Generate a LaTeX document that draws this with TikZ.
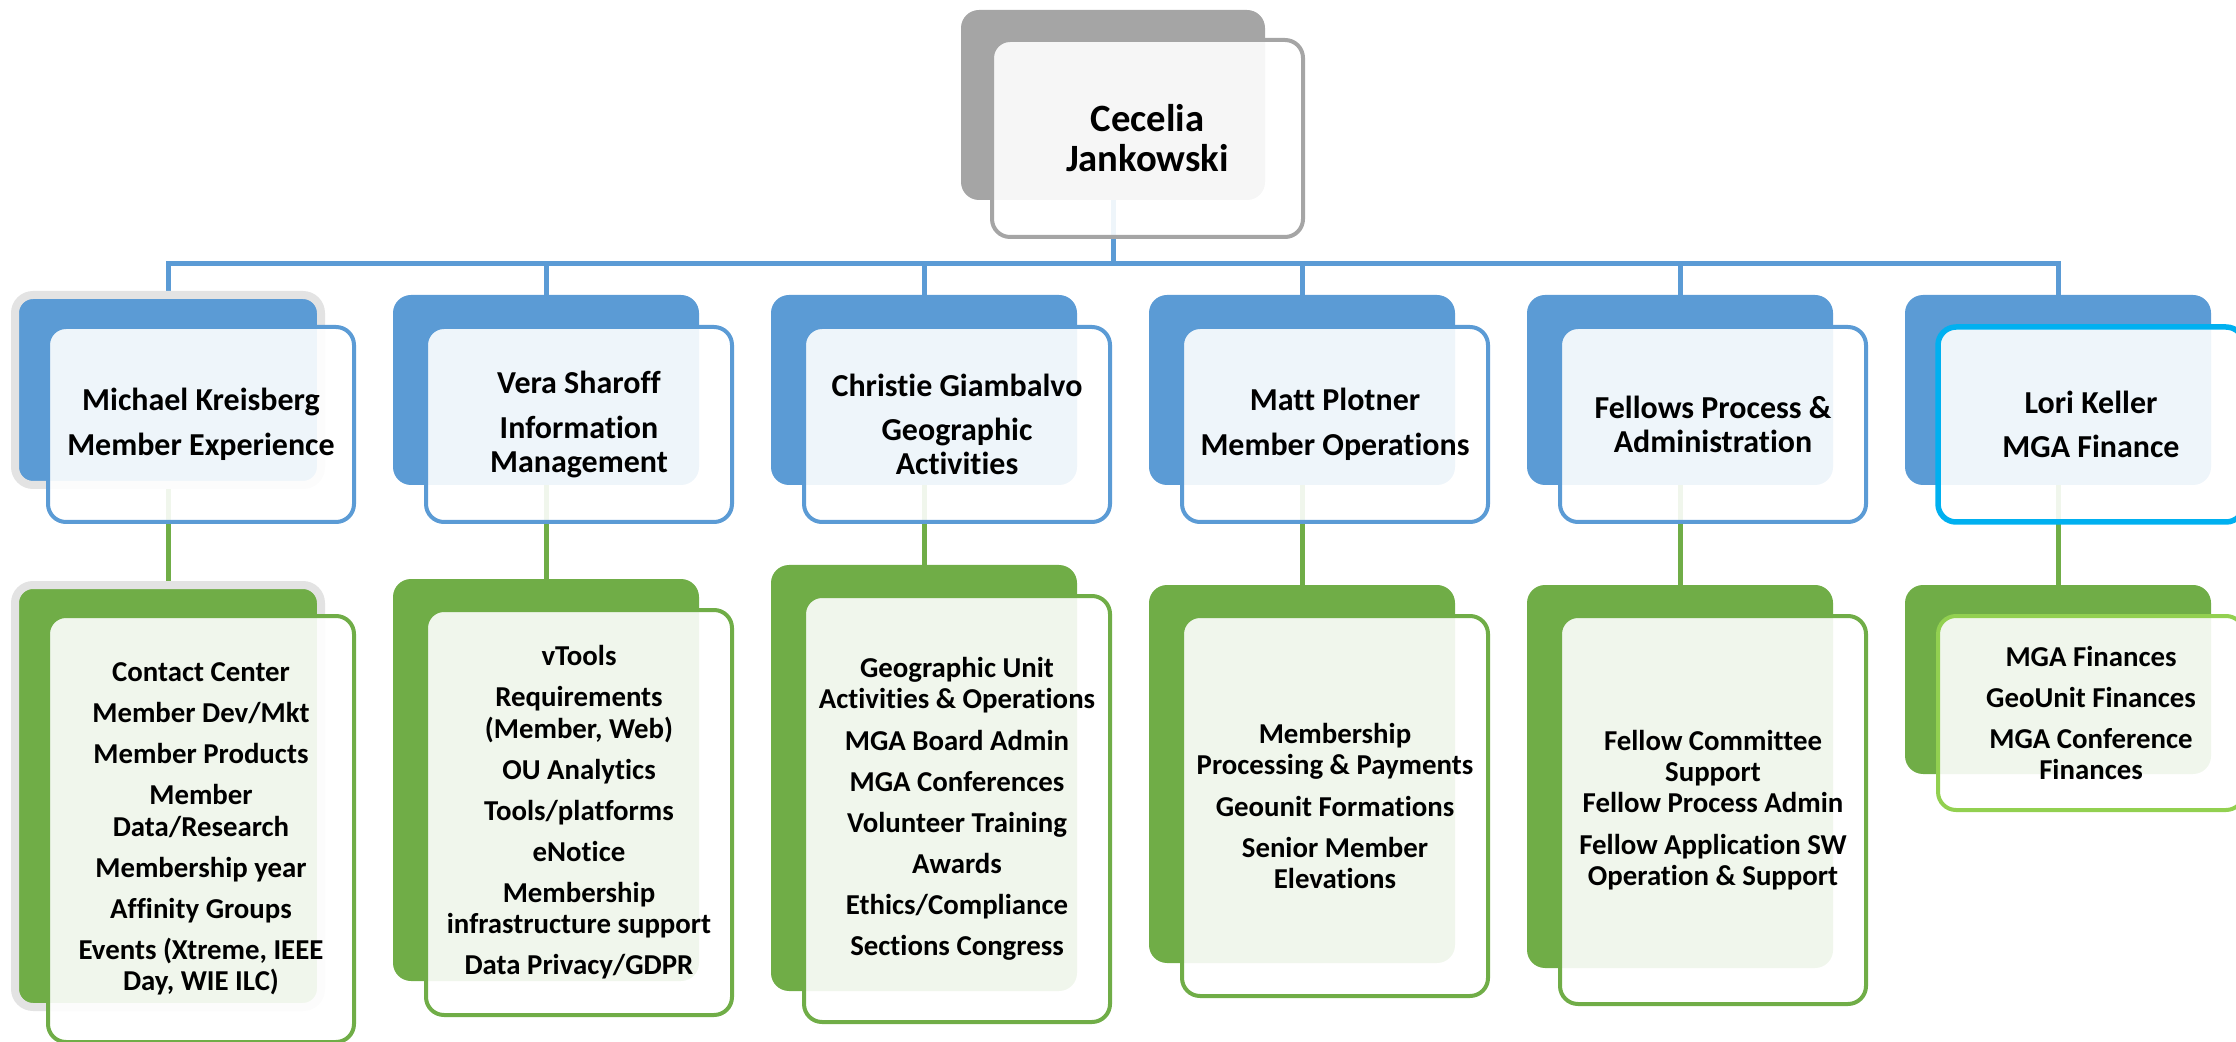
\documentclass[tikz,border=0pt]{standalone}
\usepackage{fontspec}
\setmainfont{Carlito}[Ligatures=NoCommon]

\definecolor{accentblue}{HTML}{5B9BD5}
\definecolor{accentgreen}{HTML}{70AD47}
\definecolor{accentgray}{HTML}{A5A5A5}
\definecolor{brightcyan}{HTML}{00B0F0}
\definecolor{lightgreen}{HTML}{92D050}
\definecolor{haze}{HTML}{E3E3E3}

\pgfdeclarelayer{links}
\pgfsetlayers{links,main}

\tikzset{
    backbox/.style={rounded corners=1.8mm, inner sep=0pt, outer sep=0pt, anchor=north west},
    frontbox/.style={rounded corners=1.8mm, inner sep=0pt, outer sep=0pt, anchor=north west,
        fill=white, fill opacity=0.9, text opacity=1, line width=0.4mm, align=center},
    headtext/.style={font=\fontsize{11pt}{11.4pt}\selectfont\bfseries},
    leadtext/.style={font=\fontsize{9.1pt}{9.7pt}\selectfont\bfseries},
    dutytext/.style={font=\fontsize{8.2pt}{8.9pt}\selectfont\bfseries},
    bluelink/.style={draw=accentblue, line width=0.5mm},
    greenlink/.style={draw=accentgreen, line width=0.5mm},
}

\begin{document}
\begin{tikzpicture}[x=0.1mm, y=-0.1mm]

    % Fix the page to the size of the reference
    \useasboundingbox (0,0) rectangle (2236,1042);

    % Head of the chart
    \node[backbox, fill=accentgray, minimum width=30.4mm, minimum height=19mm] (ceceliaback) at (961,10) {};
    \node[frontbox, draw=accentgray, headtext, minimum width=31.1mm, minimum height=19.7mm] (cecelia) at (992,40) {Cecelia\\Jankowski};

    % Second row: the leads (blue)
    \node[backbox, fill=accentblue, draw=haze, line width=0.8mm, minimum width=30.6mm, minimum height=19mm] (kreisbergback) at (15,295) {};
    \node[frontbox, draw=accentblue, leadtext, minimum width=30.6mm, minimum height=19.5mm] (kreisberg) at (48,327) {Michael Kreisberg\\[3pt]Member Experience};

    \node[backbox, fill=accentblue, minimum width=30.6mm, minimum height=19mm] (sharoffback) at (393,295) {};
    \node[frontbox, draw=accentblue, leadtext, minimum width=30.6mm, minimum height=19.5mm] (sharoff) at (426,327) {Vera Sharoff\\[3pt]Information\\Management};

    \node[backbox, fill=accentblue, minimum width=30.6mm, minimum height=19mm] (giambalvoback) at (771,295) {};
    \node[frontbox, draw=accentblue, leadtext, minimum width=30.6mm, minimum height=19.5mm] (giambalvo) at (804,327) {Christie Giambalvo\\[3pt]Geographic\\Activities};

    \node[backbox, fill=accentblue, minimum width=30.6mm, minimum height=19mm] (plotnerback) at (1149,295) {};
    \node[frontbox, draw=accentblue, leadtext, minimum width=30.6mm, minimum height=19.5mm] (plotner) at (1182,327) {Matt Plotner\\[3pt]Member Operations};

    \node[backbox, fill=accentblue, minimum width=30.6mm, minimum height=19mm] (fellowsback) at (1527,295) {};
    \node[frontbox, draw=accentblue, leadtext, minimum width=30.6mm, minimum height=19.5mm] (fellows) at (1560,327) {Fellows Process \&\\Administration};

    \node[backbox, fill=accentblue, minimum width=30.6mm, minimum height=19mm] (kellerback) at (1905,295) {};
    \node[frontbox, draw=brightcyan, line width=0.55mm, leadtext, minimum width=30.6mm, minimum height=19.5mm] (keller) at (1938,327) {Lori Keller\\[3pt]MGA Finance};

    % Third row: the duties (green)
    \node[backbox, fill=accentgreen, draw=haze, line width=0.8mm, minimum width=30.6mm, minimum height=42.2mm] (experienceback) at (15,585) {};
    \node[frontbox, draw=accentgreen, dutytext, minimum width=30.6mm, minimum height=42.6mm] (experience) at (48,616) {Contact Center\\[2.8pt]Member Dev/Mkt\\[2.8pt]Member Products\\[2.8pt]Member\\Data/Research\\[2.8pt]Membership year\\[2.8pt]Affinity Groups\\[2.8pt]Events (Xtreme, IEEE\\Day, WIE ILC)};

    \node[backbox, fill=accentgreen, minimum width=30.6mm, minimum height=40.2mm] (informationback) at (393,579) {};
    \node[frontbox, draw=accentgreen, dutytext, minimum width=30.6mm, minimum height=40.5mm] (information) at (426,610) {vTools\\[2.8pt]Requirements\\(Member, Web)\\[2.8pt]OU Analytics\\[2.8pt]Tools/platforms\\[2.8pt]eNotice\\[2.8pt]Membership\\infrastructure support\\[2.8pt]Data Privacy/GDPR};

    \node[backbox, fill=accentgreen, minimum width=30.6mm, minimum height=42.6mm] (geographicback) at (771,565) {};
    \node[frontbox, draw=accentgreen, dutytext, minimum width=30.6mm, minimum height=42.6mm] (geographic) at (804,596) {Geographic Unit\\Activities \& Operations\\[2.8pt]MGA Board Admin\\[2.8pt]MGA Conferences\\[2.8pt]Volunteer Training\\[2.8pt]Awards\\[2.8pt]Ethics/Compliance\\[2.8pt]Sections Congress};

    \node[backbox, fill=accentgreen, minimum width=30.6mm, minimum height=37.8mm] (operationsback) at (1149,585) {};
    \node[frontbox, draw=accentgreen, dutytext, minimum width=30.6mm, minimum height=38mm] (operations) at (1182,616) {Membership\\Processing \& Payments\\[2.8pt]Geounit Formations\\[2.8pt]Senior Member\\Elevations};

    \node[backbox, fill=accentgreen, minimum width=30.6mm, minimum height=38.3mm] (processback) at (1527,585) {};
    \node[frontbox, draw=accentgreen, dutytext, minimum width=30.6mm, minimum height=38.8mm] (process) at (1560,616) {Fellow Committee\\Support\\Fellow Process Admin\\[2.8pt]Fellow Application SW\\Operation \& Support};

    \node[backbox, fill=accentgreen, minimum width=30.6mm, minimum height=18.9mm] (financeback) at (1905,585) {};
    \node[frontbox, draw=lightgreen, dutytext, minimum width=30.6mm, minimum height=19.4mm] (finance) at (1938,616) {MGA Finances\\[2.8pt]GeoUnit Finances\\[2.8pt]MGA Conference\\Finances};

    % Connectors, kept behind the boxes
    \begin{pgfonlayer}{links}
    \coordinate (bar) at (0,264);
    \draw[bluelink] (ceceliaback.south) -- (ceceliaback.south |- bar) -| (kreisbergback.north);
    \draw[bluelink] (ceceliaback.south |- bar) -| (sharoffback.north);
    \draw[bluelink] (ceceliaback.south |- bar) -| (giambalvoback.north);
    \draw[bluelink] (ceceliaback.south |- bar) -| (plotnerback.north);
    \draw[bluelink] (ceceliaback.south |- bar) -| (fellowsback.north);
    \draw[bluelink] (ceceliaback.south |- bar) -| (kellerback.north);

    \draw[greenlink] (kreisbergback.south) -- (experienceback.north);
    \draw[greenlink] (sharoffback.south) -- (informationback.north);
    \draw[greenlink] (giambalvoback.south) -- (geographicback.north);
    \draw[greenlink] (plotnerback.south) -- (operationsback.north);
    \draw[greenlink] (fellowsback.south) -- (processback.north);
    \draw[greenlink] (kellerback.south) -- (financeback.north);
    \end{pgfonlayer}

\end{tikzpicture}
\end{document}
